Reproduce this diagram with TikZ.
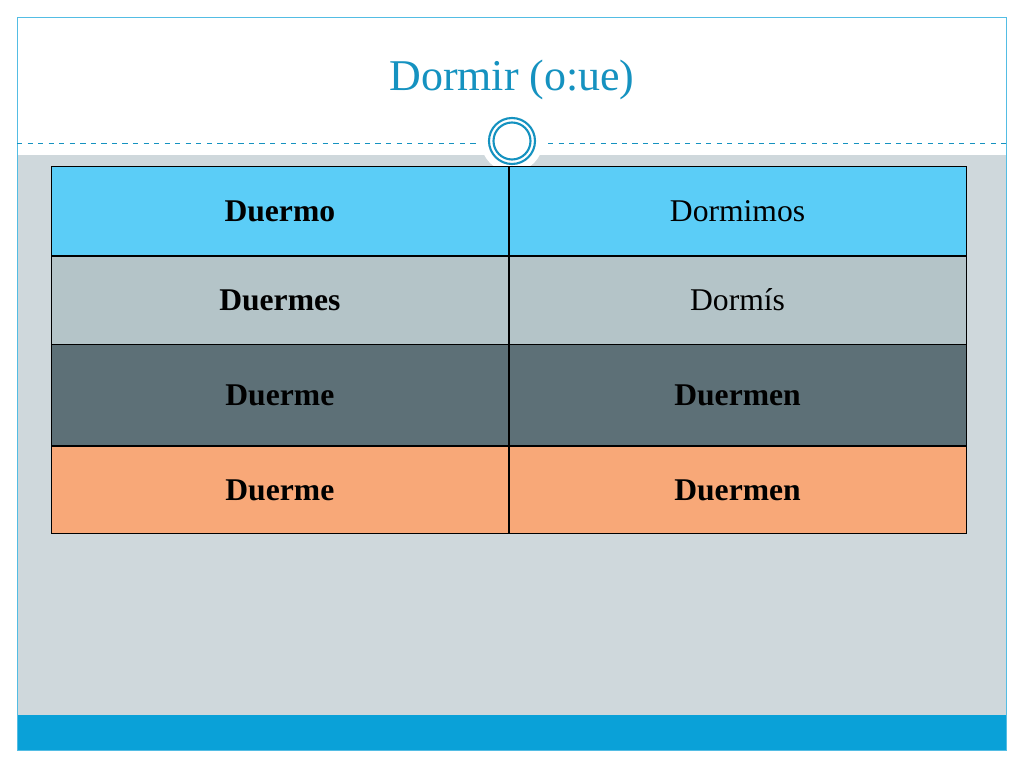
\documentclass[tikz,border=0pt]{standalone}
\usepackage{fontspec}
\setmainfont{Liberation Serif}
\usetikzlibrary{positioning}
\definecolor{titleblue}{HTML}{1592C0}
\definecolor{barblue}{HTML}{0AA1D8}
\definecolor{backgray}{HTML}{CFD8DC}
\definecolor{rowone}{HTML}{5BCDF7}
\definecolor{rowtwo}{HTML}{B4C4C8}
\definecolor{rowthree}{HTML}{5D7077}
\definecolor{rowfour}{HTML}{F8A878}
\tikzset{
  cell/.style={draw=black, minimum width=457*0.02cm, inner sep=0pt, font=\fontsize{18}{20}\selectfont},
}
\begin{document}
\begin{tikzpicture}[x=0.02cm,y=-0.02cm]
\useasboundingbox (0,0) rectangle (1024,768);
%background
\fill[white] (0,0) rectangle (1024,768);
\fill[backgray] (17,155) rectangle (1006,715);
\fill[barblue] (17,715) rectangle (1006,750);
\draw[barblue!70, thin] (17,17) rectangle (1006,750);

%title
\node[text=titleblue, font=\fontsize{25}{28}\selectfont] (title) at (512,80) {Dormir (o:ue)};
\draw[titleblue, dashed, thin] (17,143) -- (478,143);
\draw[titleblue, dashed, thin] (548,143) -- (1006,143);
\fill[white] (512,141) circle (31);
\draw[titleblue, line width=1.2pt] (512,141) circle (23);
\draw[titleblue, line width=1.2pt] (512,141) circle (18.5);

%table
\node[cell, fill=rowone, minimum height=89*0.02cm, anchor=north west] (a1) at (51,166) {\textbf{Duermo}};
\node[cell, fill=rowone, minimum height=89*0.02cm, right=0pt of a1] (b1) {Dormimos};
\node[cell, fill=rowtwo, minimum height=88*0.02cm, below=0pt of a1] (a2) {\textbf{Duermes}};
\node[cell, fill=rowtwo, minimum height=88*0.02cm, right=0pt of a2] (b2) {Dormís};
\node[cell, fill=rowthree, minimum height=101*0.02cm, below=0pt of a2] (a3) {\textbf{Duerme}};
\node[cell, fill=rowthree, minimum height=101*0.02cm, right=0pt of a3] (b3) {\textbf{Duermen}};
\node[cell, fill=rowfour, minimum height=87*0.02cm, below=0pt of a3] (a4) {\textbf{Duerme}};
\node[cell, fill=rowfour, minimum height=87*0.02cm, right=0pt of a4] (b4) {\textbf{Duermen}};
\end{tikzpicture}
\end{document}
